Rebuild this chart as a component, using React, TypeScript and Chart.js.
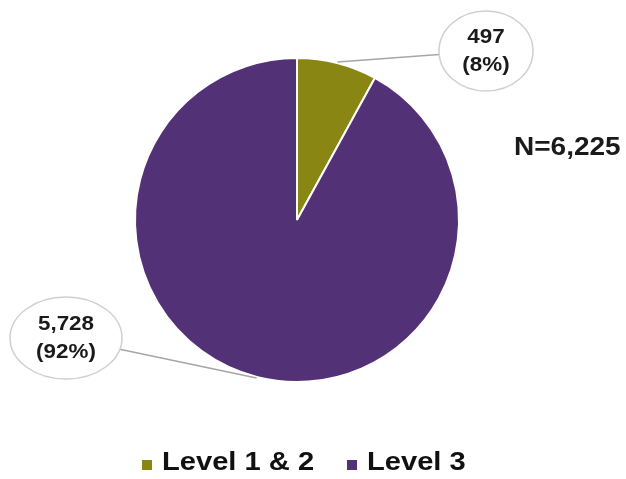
import React, { useEffect, useRef } from "react";
import { Chart, registerables } from "chart.js";

Chart.register(...registerables);

const categories = ["Level 1 & 2", "Level 3"];
const counts = [497, 5728];
const percentLabels = ["(8%)", "(92%)"];
const countLabels = ["497", "5,728"];
const totalLabel = "N=6,225";
const colors = ["#8A8614", "#533177"];

// callout ellipse layout (center x, center y, rx, ry) per slice
const callouts = [
  { cx: 486, cy: 51, rx: 47, ry: 40 },
  { cx: 66, cy: 338, rx: 56, ry: 41 },
];

const STRETCH = 1.12;

function stretchText(ctx: any, text: string, x: number, y: number, align: string) {
  ctx.save();
  ctx.translate(x, y);
  ctx.scale(STRETCH, 1);
  ctx.textAlign = align;
  ctx.fillText(text, 0, 0);
  ctx.restore();
}

const calloutPlugin = {
  id: "callouts",
  afterDatasetsDraw(chart: any) {
    const ctx = chart.ctx;
    const meta = chart.getDatasetMeta(0);
    ctx.save();
    meta.data.forEach((arc: any, i: number) => {
      const { x, y, startAngle, endAngle, outerRadius } = arc.getProps(
        ["x", "y", "startAngle", "endAngle", "outerRadius"],
        true
      );
      const mid = (startAngle + endAngle) / 2;
      const px = x + Math.cos(mid) * (outerRadius + 1);
      const py = y + Math.sin(mid) * (outerRadius + 1);
      const c = callouts[i];
      const ang = Math.atan2((py - c.cy) / c.ry, (px - c.cx) / c.rx);
      const ex = c.cx + Math.cos(ang) * c.rx;
      const ey = c.cy + Math.sin(ang) * c.ry;
      ctx.strokeStyle = "#A6A6A6";
      ctx.lineWidth = 1.5;
      ctx.beginPath();
      ctx.moveTo(px, py);
      ctx.lineTo(ex, ey);
      ctx.stroke();
      ctx.beginPath();
      ctx.ellipse(c.cx, c.cy, c.rx, c.ry, 0, 0, Math.PI * 2);
      ctx.fillStyle = "#ffffff";
      ctx.fill();
      ctx.strokeStyle = "#CFCFCF";
      ctx.lineWidth = 1.5;
      ctx.stroke();
      ctx.fillStyle = "#1a1a1a";
      ctx.font = "bold 20px 'Liberation Sans', Arial, sans-serif";
      ctx.textBaseline = "middle";
      stretchText(ctx, countLabels[i], c.cx, c.cy - 14, "center");
      stretchText(ctx, percentLabels[i], c.cx, c.cy + 14, "center");
    });
    // total label
    ctx.font = "bold 25px 'Liberation Sans', Arial, sans-serif";
    ctx.textBaseline = "middle";
    ctx.fillStyle = "#1a1a1a";
    stretchText(ctx, totalLabel, 514, 148, "left");
    // legend
    const ds = chart.data.datasets[0];
    const legendX = [142, 347];
    ctx.font = "bold 26px 'Liberation Sans', Arial, sans-serif";
    chart.data.labels.forEach((lab: string, i: number) => {
      ctx.fillStyle = ds.backgroundColor[i];
      ctx.fillRect(legendX[i], 460, 10, 10);
      ctx.fillStyle = "#111111";
      stretchText(ctx, lab, legendX[i] + 20, 463, "left");
    });
    ctx.restore();
  },
};

export default function App() {
  const ref = useRef<HTMLCanvasElement>(null);
  useEffect(() => {
    document.body.style.margin = "0";
    const chart = new Chart(ref.current!, {
      type: "pie",
      data: {
        labels: categories,
        datasets: [
          {
            data: counts,
            backgroundColor: colors,
            borderColor: "#ffffff",
            borderWidth: 2,
          },
        ],
      },
      options: {
        animation: false,
        responsive: false,
        layout: { padding: { left: 134, right: 166, top: 57, bottom: 96 } },
        plugins: {
          legend: { display: false },
          tooltip: { enabled: false },
        },
      },
      plugins: [calloutPlugin],
    });
    return () => chart.destroy();
  }, []);
  return (
    <div style={{ width: 626, height: 479 }}>
      <canvas ref={ref} width={626} height={479} />
    </div>
  );
}
